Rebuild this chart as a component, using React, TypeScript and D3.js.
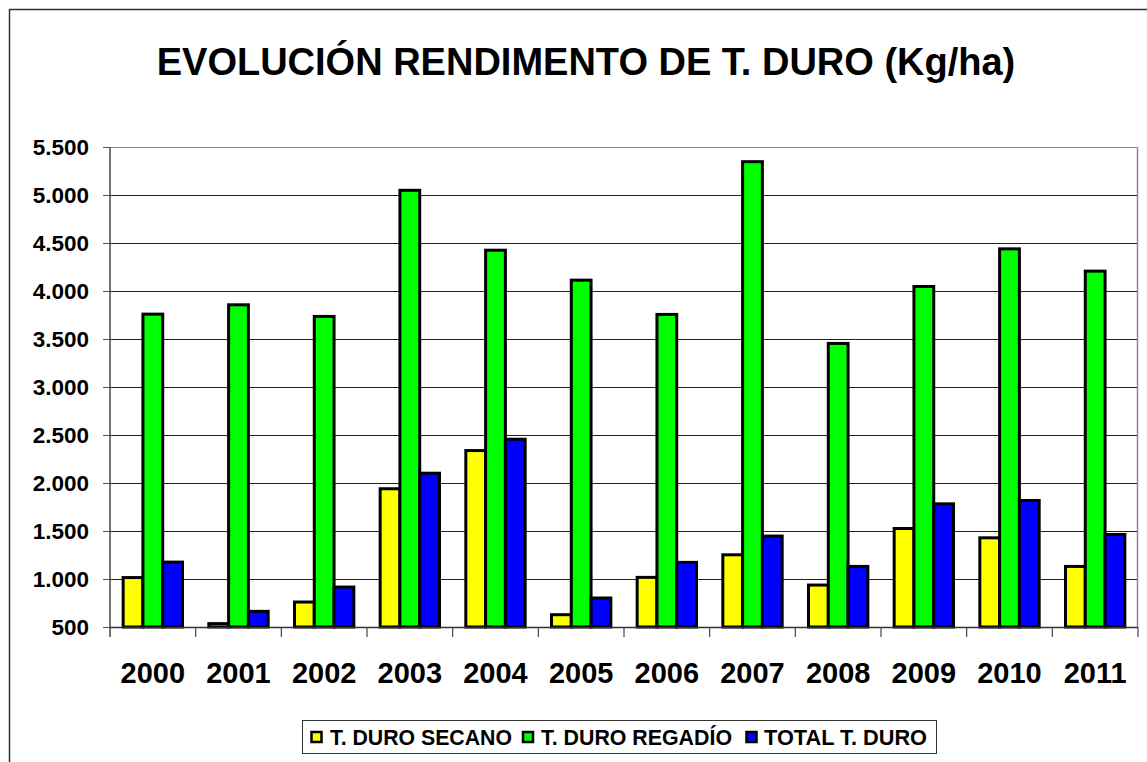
import React from "react";
import * as d3 from "d3";

const years = ["2000","2001","2002","2003","2004","2005","2006","2007","2008","2009","2010","2011"];
const secano = [1015, 535, 760, 1940, 2338, 628, 1017, 1252, 937, 1526, 1429, 1131];
const regadio = [3759, 3856, 3735, 5049, 4425, 4113, 3756, 5347, 3454, 4047, 4439, 4207];
const total = [1176, 663, 916, 2102, 2456, 802, 1173, 1447, 1131, 1783, 1818, 1464];
const seriesNames = ["T. DURO SECANO", "T. DURO REGADÍO", "TOTAL T. DURO"];
const seriesColors = ["#FFFF00", "#00FF00", "#0000FF"];
const yTicks = [500, 1000, 1500, 2000, 2500, 3000, 3500, 4000, 4500, 5000, 5500];
const title = "EVOLUCIÓN RENDIMENTO DE T. DURO (Kg/ha)";

const FONT = "'Liberation Sans', Arial, sans-serif";

export default function App() {
  const W = 1147, H = 762;
  const left = 110, right = 1138, top = 147, bottom = 627;
  const x = d3.scaleBand<string>().domain(years).range([left, right]);
  const y = d3.scaleLinear().domain([500, 5500]).range([bottom, top]);
  const bw = x.bandwidth() / (3 + 1.33);
  const fmt = d3.formatLocale({ thousands: ".", grouping: [3], decimal: ",", currency: ["", ""] }).format(",d");
  const series = [secano, regadio, total];

  const legendItems = [
    { mx: 311.5, tx: 330, tw: 182 },
    { mx: 523, tx: 541, tw: 191 },
    { mx: 746.5, tx: 764, tw: 163 },
  ];

  return (
    <svg width={W} height={H} style={{ position: "absolute", left: 0, top: 0, background: "#fff" }} fontFamily={FONT}>
      <rect x={0} y={0} width={W} height={H} fill="#fff" />
      <rect x={9.5} y={9.5} width={1150} height={800} fill="none" stroke="#333" strokeWidth={1.5} />
      <text x={586} y={75} textAnchor="middle" fontSize={38} fontWeight="bold" fill="#000">{title}</text>

      {/* plot frame */}
      <line x1={left} x2={right} y1={top + 0.5} y2={top + 0.5} stroke="#888" strokeWidth={1} />
      <line x1={right - 0.5} x2={right - 0.5} y1={top} y2={bottom} stroke="#888" strokeWidth={1.5} />

      {/* gridlines & y ticks */}
      {yTicks.map((t) => (
        <g key={t}>
          {t !== 5500 && t !== 500 && (
            <line x1={left} x2={right - 1} y1={Math.round(y(t)) + 0.5} y2={Math.round(y(t)) + 0.5} stroke="#222" strokeWidth={1} />
          )}
          <line x1={left - 7} x2={left} y1={Math.round(y(t)) + 0.5} y2={Math.round(y(t)) + 0.5} stroke="#555" strokeWidth={1} />
          <text x={89} y={y(t)} dy="0.36em" textAnchor="end" fontSize={22.5} fontWeight="bold" fill="#000">{fmt(t)}</text>
        </g>
      ))}

      {/* bars */}
      {years.map((yr, i) => {
        const x0 = (x(yr) as number) + (x.bandwidth() - 3 * bw) / 2;
        return (
          <g key={yr}>
            {series.map((s, j) => (
              <rect
                key={j}
                x={x0 + j * bw}
                y={y(s[i])}
                width={bw}
                height={bottom - y(s[i])}
                fill={seriesColors[j]}
                stroke="#000"
                strokeWidth={3}
              />
            ))}
          </g>
        );
      })}

      {/* axes */}
      <line x1={left} x2={left} y1={top} y2={bottom + 10} stroke="#444" strokeWidth={1.5} />
      <line x1={left} x2={right} y1={bottom + 0.5} y2={bottom + 0.5} stroke="#333" strokeWidth={1.5} />
      {years.map((yr) => (
        <line key={"t" + yr} x1={(x(yr) as number) + x.bandwidth()} x2={(x(yr) as number) + x.bandwidth()} y1={bottom} y2={bottom + 10} stroke="#444" strokeWidth={1.2} />
      ))}
      {years.map((yr) => (
        <text key={"l" + yr} x={(x(yr) as number) + x.bandwidth() / 2} y={683} textAnchor="middle" fontSize={29} fontWeight="bold" fill="#000">{yr}</text>
      ))}

      {/* legend */}
      <rect x={302.5} y={720.5} width={634} height={33} fill="#fff" stroke="#333" strokeWidth={1} />
      {legendItems.map((it, j) => (
        <g key={j}>
          <rect x={it.mx} y={732} width={10} height={10} fill={seriesColors[j]} stroke="#000" strokeWidth={2.5} />
          <text x={it.tx} y={745} fontSize={22} fontWeight="bold" fill="#000" textLength={it.tw} lengthAdjust="spacingAndGlyphs">{seriesNames[j]}</text>
        </g>
      ))}
    </svg>
  );
}
